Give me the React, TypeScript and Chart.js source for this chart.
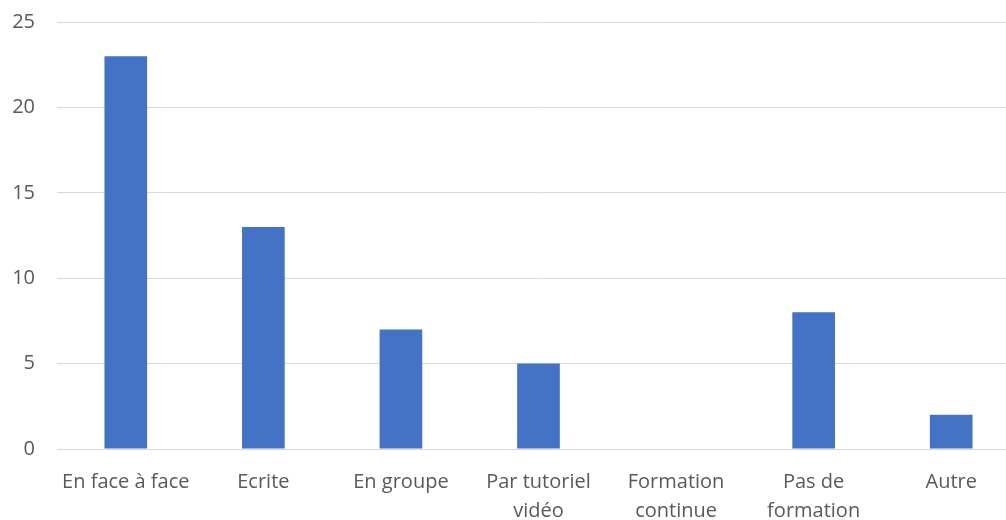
import React, { useEffect, useRef } from "react";
import { Chart, registerables } from "chart.js";

Chart.register(...registerables);

const categories: (string | string[])[] = [
  "En face à face",
  "Ecrite",
  "En groupe",
  ["Par tutoriel", "vidéo"],
  ["Formation", "continue"],
  ["Pas de", "formation"],
  "Autre",
];
const values: number[] = [23, 13, 7, 5, 0, 8, 2];
const yTicks: number[] = [0, 5, 10, 15, 20, 25];

export default function App() {
  const ref = useRef<HTMLCanvasElement | null>(null);
  useEffect(() => {
    if (!ref.current) return;
    const font = { family: "'Open Sans', sans-serif", size: 20 };
    const chart = new Chart(ref.current, {
      type: "bar",
      data: {
        labels: categories,
        datasets: [
          {
            data: values,
            backgroundColor: "#4472C4",
            borderWidth: 0,
            categoryPercentage: 1,
            barPercentage: 0.31,
          },
        ],
      },
      options: {
        animation: false,
        responsive: false,
        maintainAspectRatio: false,
        layout: { padding: { top: 0, left: 0, right: 0, bottom: 0 } },
        plugins: { legend: { display: false }, tooltip: { enabled: false } },
        scales: {
          x: {
            grid: { display: false, drawTicks: false },
            border: { display: true, color: "#d9d9d9", width: 1 },
            ticks: {
              color: "#595959",
              font: { ...font, lineHeight: 29 / 20 },
              padding: 19,
              maxRotation: 0,
              autoSkip: false,
            },
            afterFit: (scale: any) => {
              scale.height = 71;
            },
          },
          y: {
            min: 0,
            max: 25,
            afterBuildTicks: (scale: any) => {
              scale.ticks = yTicks.map((v) => ({ value: v }));
            },
            grid: { color: "#d9d9d9", lineWidth: 1, drawTicks: false },
            border: { display: false },
            ticks: { color: "#595959", font, padding: 22 },
            afterFit: (scale: any) => {
              scale.width = 57;
              scale.paddingTop = 22;
            },
          },
        },
      },
    });
    return () => chart.destroy();
  }, []);
  return (
    <div style={{ position: "fixed", left: 0, top: 0, width: 1020, height: 520, background: "#fff" }}>
      <canvas ref={ref} width={1020} height={520} style={{ display: "block" }} />
    </div>
  );
}
